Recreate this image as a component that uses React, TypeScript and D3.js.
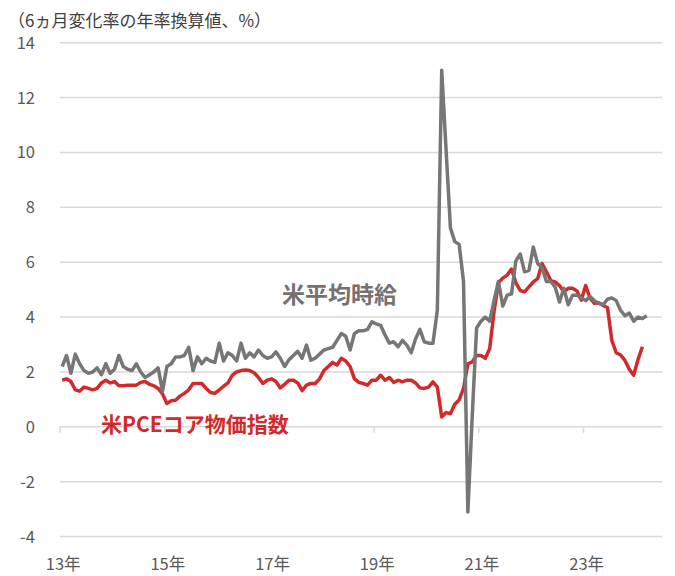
import React, { useRef, useEffect } from 'react';
import * as d3 from 'd3';

// monthly, starting Jan 2013 (6-month change, annualized, %)
const START_YEAR = 2013;

const wages = [
  2.2, 2.6, 1.95, 2.65, 2.3, 2.05, 1.95, 2.0, 2.15, 1.9, 2.3, 1.95,
  2.1, 2.6, 2.2, 2.1, 2.05, 2.3, 2.0, 1.8, 1.9, 2.0, 2.15, 1.3,
  2.2, 2.3, 2.55, 2.55, 2.6, 2.9, 2.05, 2.55, 2.3, 2.5, 2.4, 2.35,
  3.05, 2.4, 2.7, 2.6, 2.4, 3.05, 2.5, 2.7, 2.55, 2.8, 2.6, 2.5,
  2.55, 2.73, 2.5, 2.2, 2.45, 2.6, 2.75, 2.5, 2.98, 2.43, 2.5, 2.65,
  2.8, 2.85, 2.9, 3.15, 3.4, 3.3, 2.8, 3.4, 3.5, 3.5, 3.55, 3.83,
  3.75, 3.7, 3.35, 3.05, 3.1, 2.92, 3.15, 2.98, 2.7, 3.2, 3.55, 3.1,
  3.05, 3.05, 4.26, 13.0, 10.1, 7.25, 6.75, 6.65, 5.3, -3.1, 0.4, 3.6,
  3.85, 4.0, 3.85, 4.6, 5.3, 4.4, 4.8, 4.85, 6.05, 6.3, 5.65, 5.7,
  6.55, 5.95, 5.8, 5.3, 5.3, 5.1, 4.55, 5.05, 4.45, 4.8, 4.8, 4.7,
  4.6, 4.75, 4.6, 4.5, 4.45, 4.65, 4.7, 4.6, 4.25, 4.05, 4.15, 3.85,
  4.0, 3.95, 4.05,
];

const corePce = [
  1.7, 1.75, 1.65, 1.35, 1.3, 1.45, 1.4, 1.35, 1.4, 1.6, 1.7, 1.6,
  1.65, 1.5, 1.5, 1.52, 1.52, 1.52, 1.62, 1.65, 1.55, 1.5, 1.4, 1.2,
  0.85, 0.95, 0.97, 1.12, 1.22, 1.35, 1.58, 1.58, 1.58, 1.4, 1.25, 1.22,
  1.35, 1.48, 1.6, 1.88, 2.0, 2.05, 2.07, 2.05, 1.97, 1.8, 1.58, 1.7,
  1.75, 1.65, 1.42, 1.55, 1.7, 1.7, 1.6, 1.32, 1.52, 1.58, 1.58, 1.75,
  2.05, 2.2, 2.35, 2.25, 2.5, 2.4, 2.2, 1.75, 1.62, 1.58, 1.52, 1.7,
  1.7, 1.88, 1.7, 1.8, 1.62, 1.7, 1.64, 1.7, 1.7, 1.6, 1.42, 1.4,
  1.45, 1.64, 1.45, 0.36, 0.52, 0.48, 0.82, 0.98, 1.4, 2.3, 2.37, 2.6,
  2.6, 2.5, 2.85, 4.2, 5.25, 5.42, 5.53, 5.75, 5.25, 4.97, 4.92, 5.1,
  5.28, 5.4, 5.95, 5.65, 5.33, 5.28, 5.15, 4.92, 5.05, 5.05, 4.95, 4.62,
  5.15, 4.7, 4.5, 4.52, 4.42, 4.35, 3.15, 2.7, 2.62, 2.42, 2.1, 1.88,
  2.45, 2.92,
];

const yTicks = [-4, -2, 0, 2, 4, 6, 8, 10, 12, 14];
const yearLabels = ['13年', '15年', '17年', '19年', '21年', '23年'];

const title = '（6ヵ月変化率の年率換算値、%）';
const wageLabel = '米平均時給';
const pceLabel = '米PCEコア物価指数';

const App = () => {
  const svgRef = useRef(null);
  const width = 675;
  const height = 576;

  useEffect(() => {
    const svg = d3.select(svgRef.current);
    svg.selectAll('*').remove();

    const font = '"Noto Sans CJK JP", "Noto Sans", sans-serif';
    const x = d3.scaleLinear().domain([-0.5, 137.5]).range([60, 662]);
    const y = d3.scaleLinear().domain([-4, 14]).range([536.6, 42.7]);

    // gridlines
    svg.append('g')
      .selectAll('line')
      .data(yTicks)
      .join('line')
      .attr('x1', 60)
      .attr('x2', 662)
      .attr('y1', d => y(d))
      .attr('y2', d => y(d))
      .attr('stroke', '#d9d9d9')
      .attr('stroke-width', 1.5);

    // y labels
    svg.append('g')
      .selectAll('text')
      .data(yTicks)
      .join('text')
      .attr('x', 35)
      .attr('y', d => y(d) + 6)
      .attr('text-anchor', 'end')
      .attr('font-family', font)
      .attr('font-size', 16.5)
      .attr('fill', '#595959')
      .text(d => d);

    // year boundary ticks on the zero line
    const tickIdx = yearLabels.map((_, k) => k * 24 - 0.5);
    svg.append('g')
      .selectAll('line')
      .data(tickIdx)
      .join('line')
      .attr('x1', d => x(d))
      .attr('x2', d => x(d))
      .attr('y1', y(0))
      .attr('y2', y(0) + 6)
      .attr('stroke', '#d9d9d9')
      .attr('stroke-width', 1.5);

    svg.append('g')
      .selectAll('text')
      .data(yearLabels)
      .join('text')
      .attr('x', (_, k) => x(k * 24) + 1)
      .attr('y', 570)
      .attr('text-anchor', 'middle')
      .attr('font-family', font)
      .attr('font-size', 16.5)
      .attr('fill', '#595959')
      .text(d => d);

    const line = d3.line<number>()
      .x((_, i) => x(i))
      .y(d => y(d));

    svg.append('path')
      .datum(corePce)
      .attr('d', line)
      .attr('fill', 'none')
      .attr('stroke', '#d22a2a')
      .attr('stroke-width', 3.5)
      .attr('stroke-linejoin', 'round');

    svg.append('path')
      .datum(wages)
      .attr('d', line)
      .attr('fill', 'none')
      .attr('stroke', '#767676')
      .attr('stroke-width', 3.5)
      .attr('stroke-linejoin', 'round');

    svg.append('text')
      .attr('x', 8)
      .attr('y', 27)
      .attr('font-family', font)
      .attr('font-size', 17)
      .attr('fill', '#404040')
      .text(title);

    svg.append('text')
      .attr('x', 282)
      .attr('y', 303)
      .attr('font-family', font)
      .attr('font-size', 23)
      .attr('font-weight', 'bold')
      .attr('fill', '#767171')
      .text(wageLabel);

    svg.append('text')
      .attr('x', 101)
      .attr('y', 432)
      .attr('font-family', font)
      .attr('font-size', 21)
      .attr('font-weight', 'bold')
      .attr('fill', '#d22a2a')
      .text(pceLabel);
  }, []);

  return (
    <svg
      ref={svgRef}
      width={width}
      height={height}
      style={{ position: 'absolute', left: 0, top: 0, background: '#fff' }}
    />
  );
};

export default App;
